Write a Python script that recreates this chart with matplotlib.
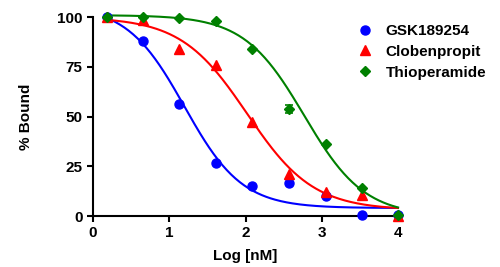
import numpy as np
from matplotlib import pyplot as plt

# log concentrations (nM)
log_conc = [0.18, 0.66, 1.13, 1.61, 2.09, 2.57, 3.05, 3.53, 4.0]

gsk = [100, 88, 56.5, 26.5, 15, 16.5, 10, 0.5, 0.5]
clob = [100, 98.5, 84, 76, 47.5, 21, 12, 10.5, 0]
thio = [100, 100, 99.5, 98, 84, 54, 36, 14, 0.5]
thio_err = [0, 0, 0, 0, 0, 2, 0, 0, 0]

names = ['GSK189254', 'Clobenpropit', 'Thioperamide']
colors = ['#0000FF', '#FF0000', '#008000']
markers = ['o', '^', 'D']
msizes = [6.5, 6.5, 5]

# fitted 4PL parameters: top, bottom, logIC50, hill
fits = [(106, 4, 1.2, 1.15), (100, 3, 2.02, 1.0), (101, 0, 2.77, 1.1)]


def four_pl(x, top, bottom, c, h):
    return bottom + (top - bottom) / (1 + 10 ** ((x - c) * h))


plt.rcParams['font.family'] = 'Liberation Sans'
plt.rcParams['font.weight'] = 'bold'

fig = plt.figure(figsize=(5, 2.67), dpi=100)
ax = fig.add_axes([0.186, 0.191, 0.61, 0.745])

xs = np.linspace(log_conc[0], log_conc[-1], 200)
series = [gsk, clob, thio]
for i in range(3):
    ax.plot(xs, four_pl(xs, *fits[i]), color=colors[i], lw=1.5, clip_on=False)
    ax.plot(log_conc, series[i], ls='none', marker=markers[i], ms=msizes[i],
            color=colors[i], clip_on=False, label=names[i], zorder=3)
ax.errorbar(log_conc[5], thio[5], yerr=thio_err[5], color=colors[2], capsize=3,
            lw=1.2, capthick=1.2, clip_on=False)

ax.set_xlim(0, 4)
ax.set_ylim(0, 100)
ax.set_xticks([0, 1, 2, 3, 4])
ax.set_yticks([0, 25, 50, 75, 100])
ax.spines['top'].set_visible(False)
ax.spines['right'].set_visible(False)
ax.spines['left'].set_linewidth(1.5)
ax.spines['bottom'].set_linewidth(1.5)
ax.tick_params(width=1.5, length=4.5, labelsize=11, pad=3)
for lab in ax.get_xticklabels() + ax.get_yticklabels():
    lab.set_fontweight('bold')
ax.set_xlabel('Log [nM]', fontsize=11, fontweight='bold', labelpad=6)
ax.set_ylabel('% Bound', fontsize=11, fontweight='bold', labelpad=17)

ax.legend(loc='upper left', bbox_to_anchor=(0.684, 0.962), bbox_transform=fig.transFigure,
          frameon=False, handletextpad=0.75, labelspacing=0.45,
          handlelength=1.2, prop={'weight': 'bold', 'size': 11})

fig.savefig('out.png', dpi=100)
